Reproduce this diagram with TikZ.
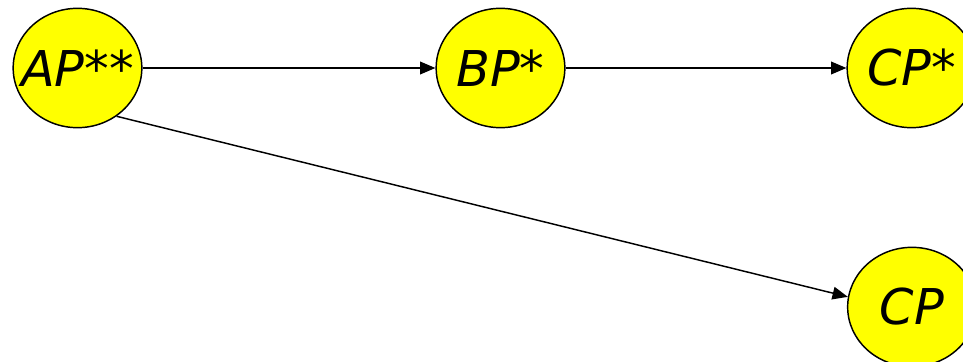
\documentclass[tikz,border=0pt]{standalone}
\usepackage{fontspec}
\setmainfont{DejaVu Sans}
\usetikzlibrary{arrows.meta,shapes.geometric}
\definecolor{pyellow}{RGB}{255,255,0}

\begin{document}
\begin{tikzpicture}[x=0.75pt, y=0.75pt,
  pnode/.style={ellipse, draw=black, line width=1.1pt, fill=pyellow,
                minimum width=96.5pt, minimum height=89.5pt, inner sep=0pt,
                font=\fontsize{37}{40}\selectfont\itshape},
  arr/.style={-{Triangle[length=11.5pt, width=9.5pt]}, line width=1.1pt}
]
\useasboundingbox (0,0) rectangle (963,361);

% Nodes
\node[pnode] (ap)    at (77.5, 293)  {\makebox[0pt]{AP**}};
\node[pnode] (bp)    at (500.5, 293) {\makebox[0pt]{BP*}};
\node[pnode] (cpst)  at (911.5, 293) {\makebox[0pt]{CP*}};
\node[pnode] (cp)    at (912, 54)    {\makebox[0pt]{CP}};

% Arrows
\draw[arr] (ap.east)  -- (bp.west);
\draw[arr] (bp.east)  -- (cpst.west);
\draw[arr] (ap.-51)   -- (cp.171);
\end{tikzpicture}
\end{document}
